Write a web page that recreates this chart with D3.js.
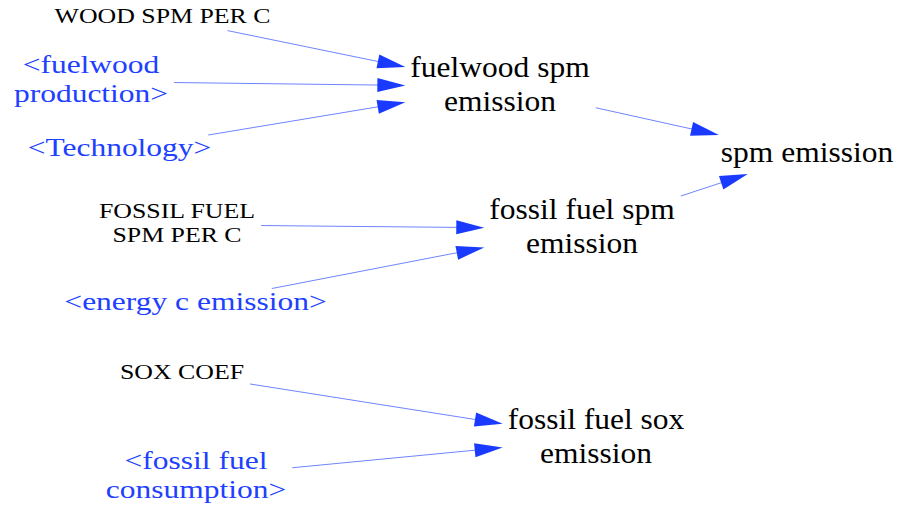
<!DOCTYPE html>
<meta charset="utf-8">
<style>
body { margin: 0; background: #fff; }
svg { display: block; }
.node text { font-family: "Liberation Serif", "Times New Roman", serif; text-anchor: middle; }
.constant text { font-size: 21px; fill: #000; }
.shadow text { font-size: 25px; fill: #2040ff; }
.aux text { font-size: 30px; fill: #000; }
.link { stroke: #6f84ff; stroke-width: 1; fill: none; }
.head { fill: #1a3bff; stroke: none; }
</style>
<svg width="898" height="506"></svg>
<script src="https://cdnjs.cloudflare.com/ajax/libs/d3/7.8.5/d3.min.js"></script>
<script>

// model variables
var nodeIds = ["woodSpm", "fuelwoodProd", "technology", "fuelwoodSpm", "spmEmission",
               "fossilSpmCoef", "energyC", "fossilSpm", "soxCoef", "fossilCons", "fossilSox"];
var nodeLabels = [["WOOD SPM PER C"], ["<fuelwood", "production>"], ["<Technology>"],
                  ["fuelwood spm", "emission"], ["spm emission"], ["FOSSIL FUEL", "SPM PER C"],
                  ["<energy c emission>"], ["fossil fuel spm", "emission"], ["SOX COEF"],
                  ["<fossil fuel", "consumption>"], ["fossil fuel sox", "emission"]];
var nodeKinds = ["constant", "shadow", "shadow", "aux", "aux", "constant",
                 "shadow", "aux", "constant", "shadow", "aux"];

// causal links
var linkFrom = ["woodSpm", "fuelwoodProd", "technology", "fuelwoodSpm", "fossilSpm",
                "fossilSpmCoef", "energyC", "soxCoef", "fossilCons"];
var linkTo   = ["fuelwoodSpm", "fuelwoodSpm", "fuelwoodSpm", "spmEmission", "spmEmission",
                "fossilSpm", "fossilSpm", "fossilSox", "fossilSox"];

// sketch layout (centre x, first baseline)
var layout = {
  woodSpm:       [162.5, 22.5],
  fuelwoodProd:  [91, 73],
  technology:    [119.5, 156],
  fuelwoodSpm:   [500, 77.4],
  spmEmission:   [807, 162],
  fossilSpmCoef: [177, 218],
  energyC:       [195.5, 309.5],
  fossilSpm:     [582, 219.4],
  soxCoef:       [182, 378.5],
  fossilCons:    [196, 468.5],
  fossilSox:     [596, 429.4]
};
var fontSize = { constant: 21, shadow: 25, aux: 30 };
var lineGap = { constant: 24, shadow: 29.5, aux: 33.3 };
var stretch = { constant: 1.23, shadow: 1.26, aux: 1.05 };

var svg = d3.select("svg");

var nodes = nodeIds.map(function(id, i) {
  return { id: id, lines: nodeLabels[i], kind: nodeKinds[i] };
});
var byId = {};
nodes.forEach(function(n) { byId[n.id] = n; });

var linkLayer = svg.append("g");

var g = svg.selectAll("g.node")
  .data(nodes)
  .enter().append("g")
    .attr("class", function(d) { return "node " + d.kind; });

var txt = g.append("text")
    .attr("transform", function(d) {
      var p = layout[d.id];
      return "translate(" + p[0] + "," + p[1] + ") scale(" + stretch[d.kind] + ",1)";
    });

txt.selectAll("tspan")
  .data(function(d) {
    return d.lines.map(function(t, j) { return { t: t, j: j, n: d }; });
  })
  .enter().append("tspan")
    .attr("x", 0)
    .attr("y", function(d) { return d.j * lineGap[d.n.kind]; })
    .text(function(d) { return d.t; });

// label boxes (visual body of the text), used to clip the arrows
g.each(function(d) {
  var r = this.getBoundingClientRect();
  var p = layout[d.id], fs = fontSize[d.kind];
  var span = (d.lines.length - 1) * lineGap[d.kind];
  d.box = {
    cx: r.x + r.width / 2,
    cy: p[1] + span / 2 - 0.25 * fs,
    hw: r.width / 2,
    hh: span / 2 + 0.35 * fs
  };
});

function exitPoint(b, dx, dy, padX, padY) {
  var tx = dx ? (b.hw + padX) / Math.abs(dx) : Infinity;
  var ty = dy ? (b.hh + padY) / Math.abs(dy) : Infinity;
  var t = Math.min(tx, ty);
  return [b.cx + dx * t, b.cy + dy * t];
}

var headLen = 28, headHalf = 7;

var links = linkFrom.map(function(f, i) {
  var a = byId[f].box, b = byId[linkTo[i]].box;
  var dx = b.cx - a.cx, dy = b.cy - a.cy;
  var s = exitPoint(a, dx, dy, 6, 6);
  var tip = exitPoint(b, -dx, -dy, 5, 9);
  var len = Math.hypot(dx, dy), ux = dx / len, uy = dy / len;
  var base = [tip[0] - ux * headLen, tip[1] - uy * headLen];
  return { s: s, tip: tip, base: base, ux: ux, uy: uy };
});

var line = d3.line();

linkLayer.selectAll("path.link")
  .data(links)
  .enter().append("path")
    .attr("class", "link")
    .attr("d", function(d) { return line([d.s, [d.base[0] + d.ux * 4, d.base[1] + d.uy * 4]]); });

linkLayer.selectAll("path.head")
  .data(links)
  .enter().append("path")
    .attr("class", "head")
    .attr("d", function(d) {
      var px = -d.uy * headHalf, py = d.ux * headHalf;
      return line([d.tip, [d.base[0] + px, d.base[1] + py], [d.base[0] - px, d.base[1] - py]]) + "Z";
    });

</script>
